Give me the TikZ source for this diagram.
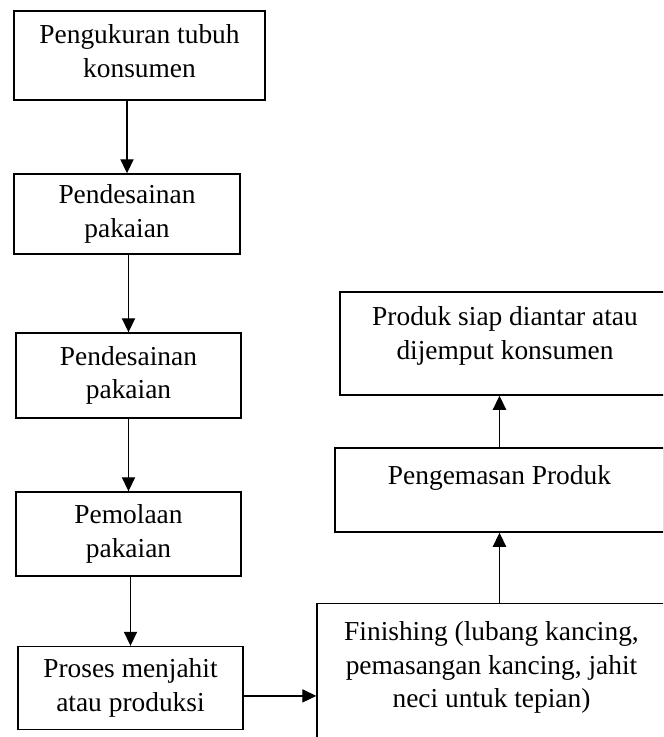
\documentclass[tikz,border=0pt]{standalone}
\usepackage{fontspec}
\setmainfont{Liberation Serif}
\usetikzlibrary{arrows.meta}

\begin{document}
\begin{tikzpicture}[
    stage/.style={rectangle, draw=black, line width=0.8pt, align=center, inner sep=2pt, font=\fontsize{15.6}{19.2}\selectfont},
    flow/.style={-{Triangle[length=8pt, width=7.5pt]}, line width=0.75pt},
    x=0.02cm, y=-0.02cm]

    % ----- page frame in pixels of the original, the right column runs off the edge
    \useasboundingbox (0, 0) rectangle (663, 737);
    \clip (0, 0) rectangle (663, 737);

    % ----- left column: from measuring down to sewing
    \node[stage, minimum width=5.02cm, minimum height=1.78cm, text depth=5pt] (ukur) at (139.5, 55.5) {Pengukuran tubuh\\konsumen};
    \node[stage, minimum width=4.52cm, minimum height=1.60cm] (desain1) at (127, 214)    {Pendesainan\\pakaian};
    \node[stage, minimum width=4.50cm, minimum height=1.70cm] (desain2) at (128.5, 375.5) {Pendesainan\\pakaian};
    \node[stage, minimum width=4.50cm, minimum height=1.68cm] (pola)    at (128.5, 534)  {Pemolaan\\pakaian};
    \node[stage, minimum width=4.50cm, minimum height=1.66cm] (jahit)   at (130.5, 688)  {Proses menjahit\\atau produksi};

    \draw[flow] (desain1.north |- ukur.south) -- (desain1.north);
    \draw[flow] (desain2.north |- desain1.south) -- (desain2.north);
    \draw[flow] (pola.north |- desain2.south) -- (pola.north);
    \draw[flow] (jahit.north |- pola.south) -- (jahit.north);

    % ----- right column: finishing up to delivery
    \node[stage, anchor=north, minimum width=6.98cm, inner ysep=10pt, text depth=30pt] (finish) at (491.5, 603)
        {Finishing (lubang kancing,\\pemasangan kancing, jahit\\neci untuk tepian)};
    \node[stage, minimum width=6.58cm, minimum height=1.68cm, text depth=17pt] (kemas)  at (499.5, 490) {Pengemasan Produk};
    \node[stage, minimum width=6.60cm, minimum height=2.06cm, text depth=12pt] (siap)   at (505, 343.5)
        {Produk siap diantar atau\\dijemput konsumen};

    \draw[flow] ([yshift=-4.5pt]jahit.east) -- ([yshift=-4.5pt]jahit.east -| finish.west);
    \draw[flow] (kemas.south |- finish.north) -- (kemas.south);
    \draw[flow] (kemas.north) -- (kemas.north |- siap.south);
\end{tikzpicture}
\end{document}
